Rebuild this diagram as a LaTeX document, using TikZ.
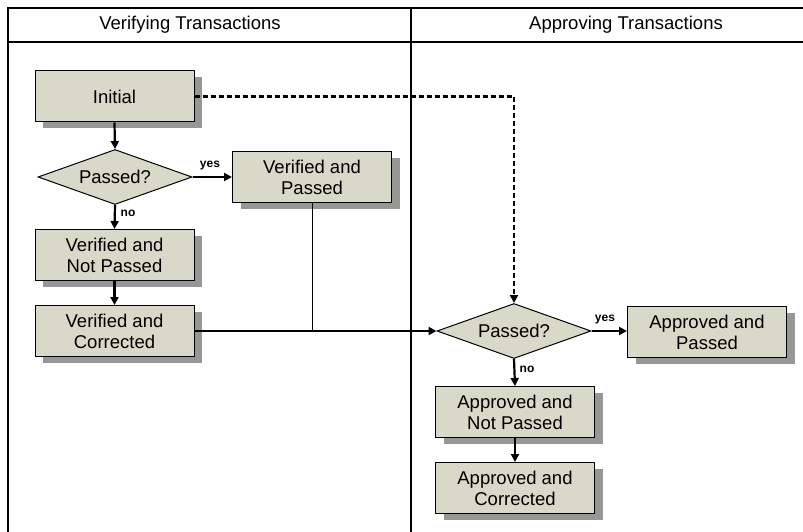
\documentclass[tikz,border=0pt]{standalone}
\usepackage{fontspec}
\setmainfont{Liberation Sans}
\usetikzlibrary{shapes.geometric,shadows,arrows.meta}
\definecolor{boxfill}{HTML}{D8D9C8}
\definecolor{shadowgray}{HTML}{979797}
\begin{document}
\begin{tikzpicture}[x=1pt,y=-1pt,
  txt/.style={font=\fontsize{18.5}{21}\selectfont,align=center},
  stepbox/.style={txt,draw=black,line width=1pt,fill=boxfill,
    minimum width=159pt,minimum height=51pt,inner sep=0pt,
    drop shadow={shadow xshift=8pt,shadow yshift=-6pt,opacity=1,fill=shadowgray}},
  decision/.style={txt,shape=diamond,draw=black,line width=1pt,fill=boxfill,
    aspect=2.8,minimum width=154pt,minimum height=55pt,inner sep=0pt},
  flow/.style={line width=2.2pt,-{Triangle[length=8pt,width=8pt]}},
  lbl/.style={font=\fontsize{12}{13}\selectfont\bfseries,inner sep=0pt},
  lane/.style={line width=2.2pt}]
\useasboundingbox (0,0) rectangle (803,532);
\fill[white] (0,0) rectangle (803,532);

% swimlane frame
\draw[line width=1.4pt] (8,540) -- (8,8) -- (810,8);
\draw[lane] (8,42) -- (810,42);
\draw[lane] (411,8) -- (411,540);
\draw[lane] (8,8) -- (8,540);
\node[txt] (laneA) at (190,25) {Verifying Transactions};
\node[txt] (laneB) at (626,25) {Approving Transactions};

% verifying lane
\node[stepbox] (init) at (114.5,96.5) {Initial};
\node[decision] (d1) at (115,177) {Passed?};
\node[stepbox] (vp) at (312,177) {Verified and\\Passed};
\node[stepbox] (vnp) at (114.5,255) {Verified and\\Not Passed};
\node[stepbox] (vc) at (114.5,331) {Verified and\\Corrected};

% approving lane
\node[decision] (d2) at (514,331) {Passed?};
\node[stepbox] (ap) at (707,332) {Approved and\\Passed};
\node[stepbox] (anp) at (515,412) {Approved and\\Not Passed};
\node[stepbox] (ac) at (515,488) {Approved and\\Corrected};

% connectors
\draw[flow] (init.south) -- (d1.north);
\draw[flow] (d1.east) -- (vp.west);
\node[lbl] (y1) at (210,166) {yes};
\draw[flow] (d1.south) -- (vnp.north);
\node[lbl] (n1) at (128,213) {no};
\draw[flow] (vnp.south) -- (vc.north);
\draw[flow] (vc.east) -- (d2.west);
\coordinate (join) at (vp.south |- vc.east);
\draw[line width=0.9pt] (vp.south) -- (join);
\draw[flow,dashed,dash pattern=on 5pt off 3pt] (init.east) -| (d2.north);
\draw[flow] (d2.east) -- (d2.east -| ap.west);
\node[lbl] (y2) at (605,320) {yes};
\draw[flow] (d2.south) -- (anp.north);
\node[lbl] (n2) at (527,369) {no};
\draw[flow] (anp.south) -- (ac.north);
\end{tikzpicture}
\end{document}
